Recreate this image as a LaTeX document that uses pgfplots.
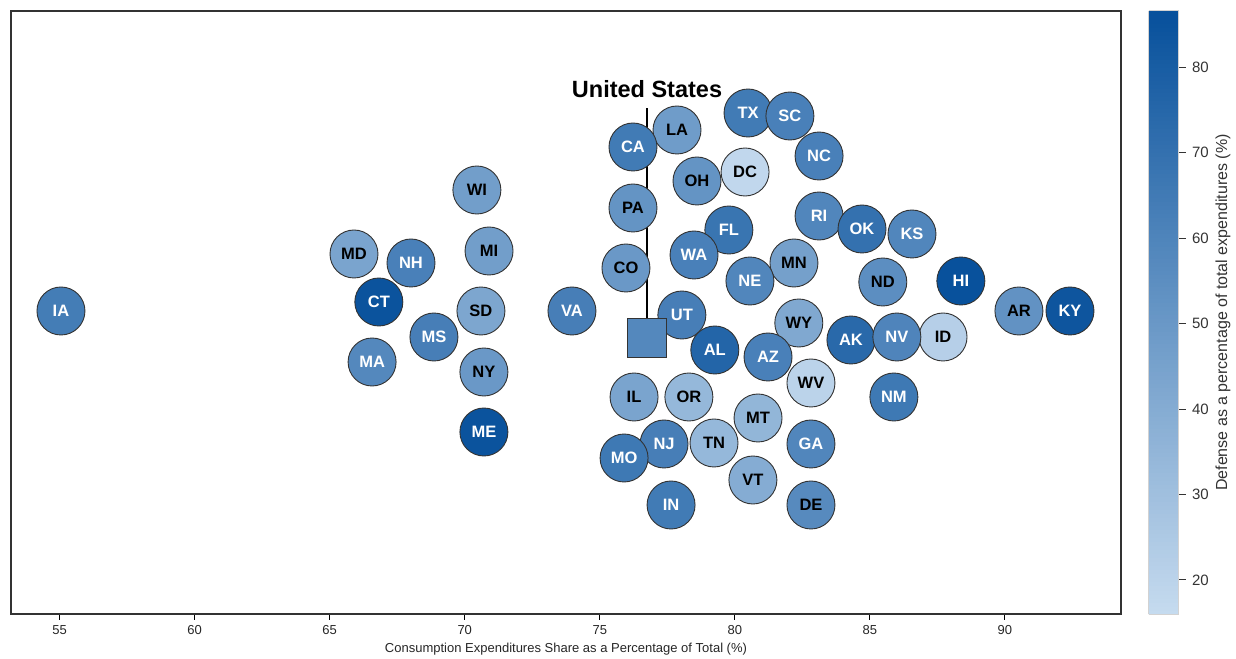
\documentclass[border=0pt]{standalone}
\usepackage{pgfplots}
\pgfplotsset{compat=1.18}
\usepackage{pgfplotstable}
\usepackage{fontspec}
\setmainfont{Liberation Sans}

\definecolor{framegray}{HTML}{333333}

% x = share of consumption (%), y = swarm offset, v = defense share (%)
% states whose label is set in black
\pgfplotstableread{
x y v lab
65.90 360 44 MD
70.45 424 47 WI
70.90 363 47 MI
70.60 303 43 SD
70.71 242 50 NY
77.86 484 48 LA
76.23 406 52 PA
75.97 346 50 CO
78.60 433 52 OH
80.38 442 18 DC
82.19 351 46 MN
85.48 332 55 ND
90.52 303 53 AR
82.37 291 42 WY
87.71 277 22 ID
82.82 231 20 WV
76.27 217 44 IL
78.30 217 34 OR
80.86 196 35 MT
79.23 171 34 TN
80.67 134 40 VT
82.82 109 57 DE
}\statesB

% states whose label is set in white
\pgfplotstableread{
x y v lab
55.05 303 64 IA
68.01 351 62 NH
66.82 312 85 CT
68.86 277 63 MS
66.57 252 58 MA
70.71 182 85 ME
73.97 303 63 VA
76.23 467 65 CA
78.04 299 63 UT
79.26 264 76 AL
80.49 501 65 TX
82.04 498 62 SC
83.12 458 62 NC
79.78 384 68 FL
78.49 359 62 WA
80.56 333 59 NE
83.12 398 59 RI
84.71 385 70 OK
86.56 380 59 KS
88.37 333 86 HI
92.41 303 84 KY
84.30 274 74 AK
86.00 277 60 NV
81.23 257 62 AZ
85.89 217 66 NM
82.82 170 59 GA
77.38 170 63 NJ
75.90 156 66 MO
77.64 109 65 IN
}\statesW

\begin{document}
\begin{tikzpicture}
\begin{axis}[
    scale only axis,
    width=1110pt, height=603pt,
    xmin=53.2, xmax=94.3,
    ymin=0, ymax=603,
    xtick={55,60,...,90},
    ytick=\empty,
    tick align=outside,
    xtick pos=bottom,
    major tick length=6pt,
    tick style={black, line width=0.9pt},
    axis line style={framegray, line width=1.1pt},
    /pgf/number format/assume math mode=true,
    xticklabel style={font=\fontsize{13}{14}\selectfont, text=black!85, yshift=-2pt},
    xlabel={Consumption Expenditures Share as a Percentage of Total (\%)},
    xlabel style={font=\fontsize{13}{14}\selectfont, text=black!85, yshift=-1pt},
    colormap={defblues}{rgb255=(198,219,239) rgb255=(8,81,156)},
    point meta min=16, point meta max=86.6,
    colorbar sampled,
    colorbar shift/.style={xshift=27pt},
    colorbar style={
        samples=150,
        width=30pt,
        ytick={20,30,...,80},
        ytick pos=right,
        tick align=outside,
        major tick length=7pt,
        ytick style={black!80, line width=0.9pt},
        axis line style={draw=gray!35, line width=1pt},
        yticklabel style={font=\fontsize{15}{16}\selectfont, text=black!80, xshift=3pt},
        /pgf/number format/assume math mode=true,
        ylabel={Defense as a percentage of total expenditures (\%)},
        ylabel style={font=\fontsize{16}{17}\selectfont, text=black!80},
    },
    disc/.style={
        scatter, only marks, mark=*, mark size=24pt,
        point meta=explicit,
        scatter/use mapped color={draw=framegray, fill=mapped color},
        mark options={line width=0.9pt},
    },
    tag/.style={
        only marks, mark=none,
        point meta=explicit symbolic,
        nodes near coords,
        nodes near coords align=center,
        every node near coord/.append style={font=\fontsize{16.5}{17}\selectfont\bfseries, text=#1, anchor=center},
    },
]
\addplot[disc] table[x=x, y=y, meta=v] {\statesB};
\addplot[disc] table[x=x, y=y, meta=v] {\statesW};
\addplot[tag=black] table[x=x, y=y, meta=lab] {\statesB};
\addplot[tag=white] table[x=x, y=y, meta=lab] {\statesW};

\addplot[black, line width=1.2pt] coordinates {(76.75,296) (76.75,506)};

\addplot[
    scatter, only marks, mark=square*, mark size=19.5pt,
    point meta=explicit,
    scatter/use mapped color={draw=framegray, fill=mapped color},
    mark options={line width=1.6pt},
] coordinates {(76.75,276) [58]};

\node[font=\fontsize{23.5}{24}\selectfont\bfseries] at (axis cs:76.75,525) {United States};
\end{axis}
\path ([xshift=-11pt,yshift=11pt]current axis.north west);
\path ([xshift=115pt]current axis.north east);
\end{tikzpicture}
\end{document}
